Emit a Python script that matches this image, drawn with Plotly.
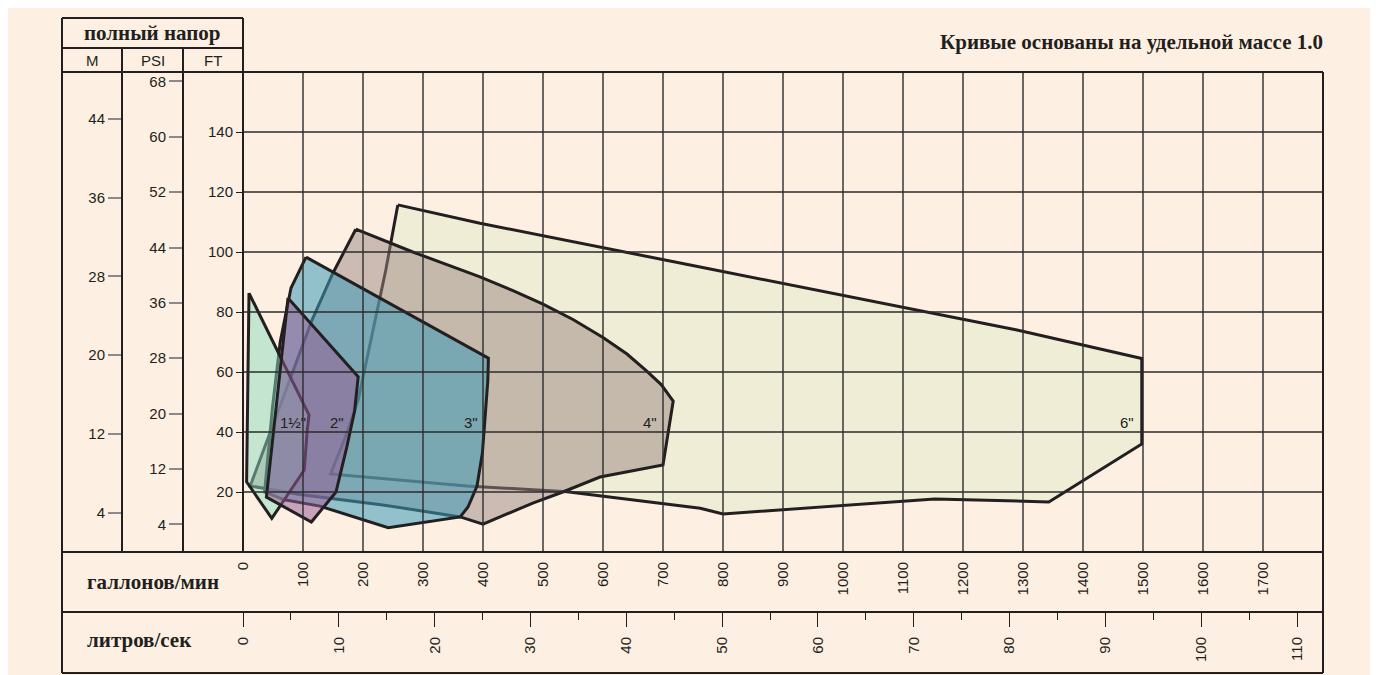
import plotly.graph_objects as go

# ---------------- axis tick values ----------------
gpm_ticks = [0, 100, 200, 300, 400, 500, 600, 700, 800, 900, 1000, 1100, 1200,
             1300, 1400, 1500, 1600, 1700]
lps_ticks = [0, 10, 20, 30, 40, 50, 60, 70, 80, 90, 100, 110]
ft_ticks = [20, 40, 60, 80, 100, 120, 140]
psi_ticks = [4, 12, 20, 28, 36, 44, 52, 60, 68]
m_ticks = [4, 12, 20, 28, 36, 44]
grid_gpm = [100, 200, 300, 400, 500, 600, 700, 800, 900, 1000, 1100, 1200,
            1300, 1400, 1500, 1600, 1700]
grid_ft = [20, 40, 60, 80, 100, 120, 140]

# ---------------- pump envelopes: flow (US gpm) / total head (ft) ----------------
size_names = ['6"', '4"', '3"', '1½"', '2"']

gpm_6in = [258, 395, 762, 1150, 1290, 1498, 1498, 1343, 1153, 800, 762, 540, 373,
           146, 170, 192, 215, 238]
head_6in = [115.7, 109.6, 95, 79.6, 74, 64.5, 36, 16.7, 17.7, 12.7, 14.6, 20.1, 22,
            26, 38, 50.7, 72, 94]

gpm_4in = [188, 283, 395, 450, 500, 550, 600, 640, 673, 697, 717, 709, 700, 595,
           533, 483, 400, 362, 233, 95, 12, 115, 150]
head_4in = [107.6, 100, 91.7, 87.1, 82.6, 77.5, 71.5, 66, 60.3, 55.8, 50.3, 40.5,
            29, 25, 20, 16.3, 9.3, 11.7, 15.7, 19.2, 22, 77.3, 93]

gpm_3in = [105, 409, 408, 404, 399, 390, 375, 362, 242, 128, 67, 36, 41, 49, 62, 80]
head_3in = [98.3, 64.6, 57, 45, 33, 22, 15, 11.7, 8.1, 15.3, 17.5, 20, 30, 48, 70, 88]

gpm_15in = [10, 110, 107, 102, 48, 6]
head_15in = [86.3, 45.7, 40.5, 27.3, 11.2, 23.4]

gpm_2in = [75, 192, 186, 173, 155, 114, 39]
head_2in = [84.7, 58.4, 47, 35, 20, 10, 18.3]

# unit conversions / axis extents
GPM_MAX = 1800
FT_MAX = 160
FT_PER_PSI = 2.3067
FT_PER_M = 3.2808
GPM_PER_LPS = 15.97

# ---------------- styling ----------------
BG = '#FDF0E2'
INK = '#231F20'
GRID = '#2b2b2b'
TICKGRAY = '#8a8a8a'
SANS = 'Liberation Sans, Arial, Helvetica, sans-serif'
SERIF = 'Liberation Serif, Times New Roman, serif'

fills = {
    '6"': 'rgb(239,237,213)',
    '4"': 'rgba(153,133,129,0.5)',
    '3"': 'rgba(60,155,184,0.55)',
    '1½"': 'rgba(139,218,190,0.5)',
    '2"': 'rgba(150,90,150,0.52)',
}
series = {
    '6"': (gpm_6in, head_6in),
    '4"': (gpm_4in, head_4in),
    '3"': (gpm_3in, head_3in),
    '1½"': (gpm_15in, head_15in),
    '2"': (gpm_2in, head_2in),
}
label_pos = {'1½"': 83, '2"': 157, '3"': 380, '4"': 678, '6"': 1473}
LABEL_HEAD = 43.3

# page geometry in screen pixels (the page body adds an 8 px offset)
OFF = 8
W, H = 1378, 675
L, R, T, B = 62, 1323, 18, 673
PLOT_L, PLOT_T, PLOT_B = 243, 72, 552
COL_M, COL_PSI = 122, 183
ROW_HEAD1, ROW_LPS = 48, 612
FL, FR, FT_, FB = L - OFF, R - OFF, T - OFF, B - OFF   # figure-space frame


def px(x):
    return (x - L) / (R - L)


def py(y):
    return (B - y) / (B - T)


fig = go.Figure()

for name in size_names:
    xs, ys = series[name]
    xs = list(xs) + [xs[0]]
    ys = list(ys) + [ys[0]]
    fig.add_trace(go.Scatter(
        x=xs, y=ys, mode='lines', fill='toself', fillcolor=fills[name],
        line=dict(color=INK, width=3), name=name, hoverinfo='skip',
        showlegend=False, xaxis='x', yaxis='y'))

# empty traces so the secondary scales are registered
fig.add_trace(go.Scatter(x=[None], y=[None], xaxis='x2', yaxis='y', showlegend=False, hoverinfo='skip'))
fig.add_trace(go.Scatter(x=[None], y=[None], xaxis='x', yaxis='y2', showlegend=False, hoverinfo='skip'))
fig.add_trace(go.Scatter(x=[None], y=[None], xaxis='x', yaxis='y3', showlegend=False, hoverinfo='skip'))

shapes = []
for v in grid_gpm:
    shapes.append(dict(type='line', xref='x', yref='y', x0=v, x1=v, y0=0, y1=FT_MAX,
                       line=dict(color=GRID, width=1.4), layer='above'))
for h in grid_ft:
    shapes.append(dict(type='line', xref='x', yref='y', x0=0, x1=GPM_MAX, y0=h, y1=h,
                       line=dict(color=GRID, width=1.4), layer='above'))

frame = [
    (L, T, L, B), (L, B, R, B), (R, PLOT_T, R, B), (L, T, PLOT_L, T),
    (PLOT_L, T, PLOT_L, PLOT_B), (L, ROW_HEAD1, PLOT_L, ROW_HEAD1),
    (L, PLOT_T, R, PLOT_T), (COL_M, ROW_HEAD1, COL_M, PLOT_B),
    (COL_PSI, ROW_HEAD1, COL_PSI, PLOT_B), (L, PLOT_B, R, PLOT_B),
    (L, ROW_LPS, R, ROW_LPS),
]
for x0, y0, x1, y1 in frame:
    shapes.append(dict(type='line', xref='paper', yref='paper',
                       x0=px(x0), x1=px(x1), y0=py(y0), y1=py(y1),
                       line=dict(color=INK, width=2), layer='above'))

annotations = []
for name, g in label_pos.items():
    annotations.append(dict(x=g, y=LABEL_HEAD, xref='x', yref='y', text=name,
                            showarrow=False, font=dict(family=SANS, size=15, color=INK)))


def paper_text(text, x, y, size, family, bold=False, xanchor='center'):
    annotations.append(dict(x=px(x), y=py(y), xref='paper', yref='paper',
                            text=f'<b>{text}</b>' if bold else text, showarrow=False,
                            xanchor=xanchor, yanchor='middle',
                            font=dict(family=family, size=size, color=INK)))


paper_text('полный напор', (L + PLOT_L) / 2, 33, 21, SERIF, bold=True)
paper_text('M', (L + COL_M) / 2, 60, 15, SANS)
paper_text('PSI', (COL_M + COL_PSI) / 2, 60, 15, SANS)
paper_text('FT', (COL_PSI + PLOT_L) / 2, 60, 15, SANS)
paper_text('Кривые основаны на удельной массе 1.0', 1325, 42, 21, SERIF, bold=True, xanchor='right')
paper_text('галлонов/мин', 85, 582, 21, SERIF, bold=True, xanchor='left')
paper_text('литров/сек', 85, 640, 21, SERIF, bold=True, xanchor='left')

tickfont = dict(family=SANS, size=15, color=INK)
common = dict(showgrid=False, zeroline=False, showline=False, fixedrange=True,
              automargin=False, tickfont=tickfont)

fig.update_layout(
    width=W, height=H,
    margin=dict(l=FL, r=W - FR, t=FT_, b=H - FB, pad=0),
    paper_bgcolor=BG, plot_bgcolor=BG,
    showlegend=False,
    font=dict(family=SANS, size=15, color=INK),
    shapes=shapes,
    annotations=annotations,
    xaxis=dict(domain=[px(PLOT_L), 1], range=[0, GPM_MAX], tickmode='array',
               tickvals=gpm_ticks, tickangle=-90, ticks='', ticklabelstandoff=6, **common),
    xaxis2=dict(overlaying='x', anchor='free', position=py(ROW_LPS), side='bottom',
                domain=[px(PLOT_L), 1], range=[0, GPM_MAX / GPM_PER_LPS],
                tickmode='array', tickvals=lps_ticks, tickangle=-90,
                ticks='outside', ticklen=14, tickwidth=1.3, tickcolor=INK,
                minor=dict(tickmode='linear', tick0=5, dtick=10, ticks='outside',
                           ticklen=7, tickwidth=1.3, tickcolor=INK),
                ticklabelstandoff=4, **common),
    yaxis=dict(domain=[py(PLOT_B), py(PLOT_T)], range=[0, FT_MAX], anchor='x',
               tickmode='array', tickvals=ft_ticks, ticks='outside', ticklen=6,
               tickwidth=1.3, tickcolor=INK, **common),
    yaxis2=dict(overlaying='y', anchor='free', position=px(COL_PSI), side='left',
                range=[0, FT_MAX / FT_PER_PSI], tickmode='array', tickvals=psi_ticks,
                ticks='outside', ticklen=14, tickwidth=1.5, tickcolor=TICKGRAY, **common),
    yaxis3=dict(overlaying='y', anchor='free', position=px(COL_M), side='left',
                range=[0, FT_MAX / FT_PER_M], tickmode='array', tickvals=m_ticks,
                ticks='outside', ticklen=14, tickwidth=1.5, tickcolor=TICKGRAY, **common),
)

fig.write_html('out.html', config={'displayModeBar': False})
